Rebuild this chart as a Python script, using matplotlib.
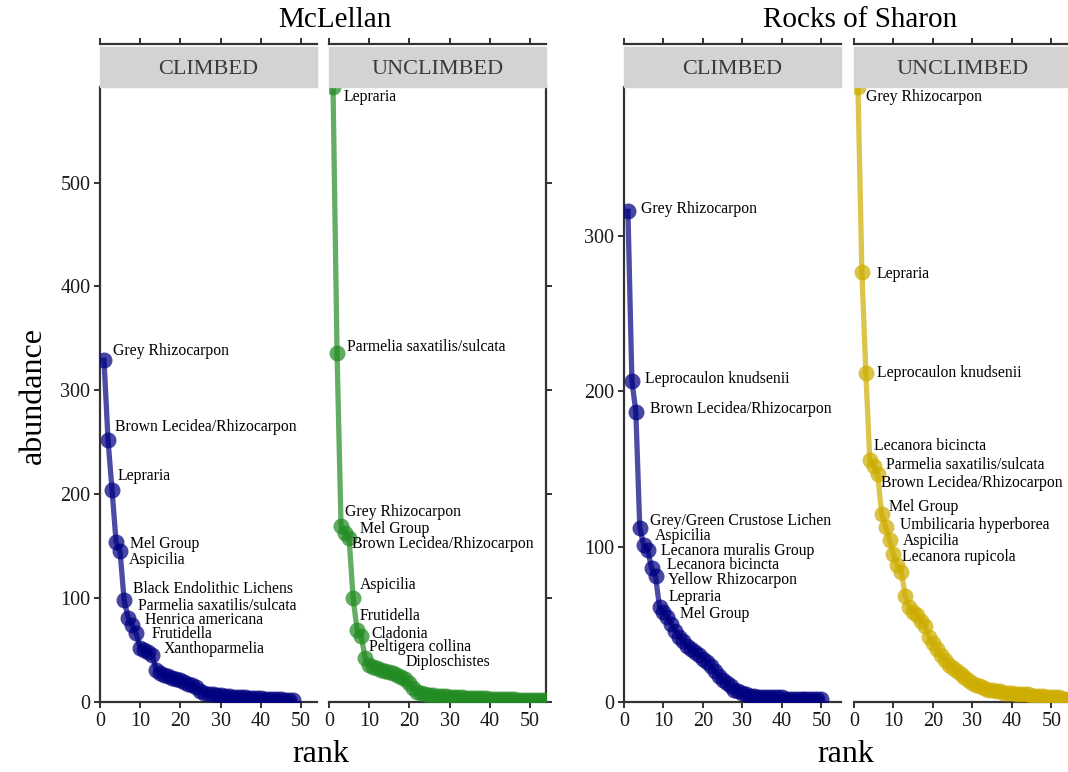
import numpy as np
import matplotlib.pyplot as plt
from matplotlib.patches import Rectangle

plt.rcParams['font.family'] = ['Liberation Serif', 'DejaVu Serif']

# rank-abundance data, one list per site x treatment (sorted, rank 1 first)
mc_climbed = [329, 252, 204, 154, 145, 98, 81, 74, 66, 52, 50, 48, 45, 31, 28, 26,
              25, 23, 22, 21, 19, 17, 16, 14, 11, 9, 8, 8, 7, 7, 6, 6, 5, 5, 5, 5,
              4, 4, 4, 4, 3, 3, 3, 3, 3, 2, 2, 2]
mc_climbed_names = ["Grey Rhizocarpon", "Brown Lecidea/Rhizocarpon", "Lepraria",
                    "Mel Group", "Aspicilia", "Black Endolithic Lichens",
                    "Parmelia saxatilis/sulcata", "Henrica americana", "Frutidella",
                    "Xanthoparmelia"]

mc_unclimbed = [592, 336, 169, 163, 158, 100, 69, 64, 42, 36, 34, 33, 31, 30, 29,
                28, 26, 24, 22, 18, 13, 10, 9, 8, 7, 7, 6, 6, 6, 5, 5, 5, 5, 4, 4,
                4, 4, 4, 4, 3, 3, 3, 3, 3, 3, 3, 2, 2, 2, 2, 2, 2, 2, 2]
mc_unclimbed_names = ["Lepraria", "Parmelia saxatilis/sulcata", "Grey Rhizocarpon",
                      "Mel Group", "Brown Lecidea/Rhizocarpon", "Aspicilia",
                      "Frutidella", "Cladonia", "Peltigera collina", "Diploschistes"]

rs_climbed = [316, 207, 187, 112, 101, 98, 86, 81, 61, 58, 55, 50, 46, 42, 39, 36,
              34, 32, 30, 28, 26, 23, 20, 17, 14, 12, 10, 8, 7, 6, 5, 4, 4, 3, 3,
              3, 3, 3, 3, 3, 2, 2, 2, 2, 2, 2, 2, 2, 2, 2]
rs_climbed_names = ["Grey Rhizocarpon", "Leprocaulon knudsenii",
                    "Brown Lecidea/Rhizocarpon", "Grey/Green Crustose Lichen",
                    "Aspicilia", "Lecanora muralis Group", "Lecanora bicincta",
                    "Yellow Rhizocarpon", "Lepraria", "Mel Group"]

rs_unclimbed = [396, 277, 212, 156, 152, 147, 121, 113, 104, 95, 88, 84, 68, 61,
                58, 56, 52, 49, 42, 38, 34, 30, 27, 24, 22, 20, 18, 16, 14, 12, 11,
                10, 9, 8, 8, 7, 7, 6, 6, 6, 5, 5, 5, 5, 4, 4, 4, 4, 3, 3, 3, 3, 2,
                2, 2]
rs_unclimbed_names = ["Grey Rhizocarpon", "Lepraria", "Leprocaulon knudsenii",
                      "Lecanora bicincta", "Parmelia saxatilis/sulcata",
                      "Brown Lecidea/Rhizocarpon", "Mel Group",
                      "Umbilicaria hyperborea", "Aspicilia", "Lecanora rupicola"]

# label nudges in pixels (right, up) so the names don't collide
mc_climbed_nudge = [(9, 9), (7, 13), (6, 14), (14, -2), (9, -9), (9, 11), (10, 12),
                    (13, 5), (15, -1), (23, -1)]
mc_unclimbed_nudge = [(11, -10), (10, 6), (4, 14), (15, 4), (3, -6), (7, 13),
                      (2, 14), (10, 2), (4, 11), (36, 3)]
rs_climbed_nudge = [(13, 2), (13, 2), (14, 3), (10, 7), (11, 9), (13, -1), (15, 3),
                    (12, -4), (9, 10), (17, -2)]
rs_unclimbed_nudge = [(8, -10), (15, -2), (11, 0), (4, 14), (12, 1), (3, -9), (7, 7),
                      (14, 2), (13, -1), (9, -3)]

W, H = 1068, 772
fig = plt.figure(figsize=(W / 100, H / 100), dpi=100)

PANEL_TOP, PANEL_BOT, PANEL_W = 87, 702, 217
STRIP_TOP = 45
AXCOL = '#333333'


def panel(left, abund, names, nudge, color, xmax, ymax, yticks, side, label):
    ax = fig.add_axes([left / W, (H - PANEL_BOT) / H, PANEL_W / W,
                       (PANEL_BOT - PANEL_TOP) / H])
    ranks = np.arange(1, len(abund) + 1)
    ax.plot(ranks, abund, color=color, lw=3.8, alpha=0.7, zorder=2)
    ax.plot(ranks, abund, 'o', ms=11.5, color=color, alpha=0.72, mec='none', zorder=3)
    for r, v, name, (dx, dy) in zip(ranks, abund, names, nudge):
        ax.annotate(name, xy=(r, v), xytext=(dx, dy), textcoords='offset pixels',
                    ha='left', va='center', fontsize=11.3, color='black', zorder=4)

    ax.set_xlim(0, xmax)
    ax.set_ylim(0, ymax)
    ax.set_xticks(np.arange(0, 51, 10))
    ax.set_yticks(yticks)

    for s in ax.spines.values():
        s.set_color(AXCOL)
        s.set_linewidth(1.6)
    ax.spines['top'].set_position(('outward', (PANEL_TOP - STRIP_TOP + 1) * 0.72))
    ax.spines['left'].set_visible(side == 'left')
    ax.spines['right'].set_visible(side == 'right')

    ax.tick_params(axis='x', top=True, bottom=True, labeltop=False, direction='out',
                   length=4, width=1.4, color=AXCOL, labelsize=14.5, pad=3,
                   labelcolor='#1a1a1a')
    ax.tick_params(axis='y', left=(side == 'left'), right=(side == 'right'),
                   labelleft=(side == 'left'), labelright=False, direction='out',
                   length=4, width=1.4, color=AXCOL, labelsize=14.5, pad=3,
                   labelcolor='#1a1a1a')

    # facet strip
    fig.patches.append(Rectangle((left / W, (H - PANEL_TOP) / H), PANEL_W / W,
                                 (PANEL_TOP - STRIP_TOP - 2) / H,
                                 transform=fig.transFigure, color='#d3d3d3', zorder=0))
    fig.text((left + PANEL_W / 2) / W, 1 - 69 / H, label,
             ha='center', va='center', fontsize=16, color='#3a3a3a')
    return ax


navy, green, gold = '#000080', '#228B22', '#CDAD00'

panel(100, mc_climbed, mc_climbed_names, mc_climbed_nudge, navy, 54, 592,
      range(0, 501, 100), 'left', 'CLIMBED')
panel(329, mc_unclimbed, mc_unclimbed_names, mc_unclimbed_nudge, green, 54, 592,
      range(0, 501, 100), 'right', 'UNCLIMBED')
panel(624, rs_climbed, rs_climbed_names, rs_climbed_nudge, navy, 55, 396,
      range(0, 301, 100), 'left', 'CLIMBED')
panel(854, rs_unclimbed, rs_unclimbed_names, rs_unclimbed_nudge, gold, 55, 396,
      range(0, 301, 100), 'right', 'UNCLIMBED')

fig.text(335 / W, 1 - 20 / H, 'McLellan', ha='center', va='center', fontsize=21)
fig.text(860 / W, 1 - 20 / H, 'Rocks of Sharon', ha='center', va='center', fontsize=21)
fig.text(33 / W, 1 - 395 / H, 'abundance', rotation=90, ha='center', va='center',
         fontsize=23)
fig.text(321 / W, 1 - 755 / H, 'rank', ha='center', va='center', fontsize=23)
fig.text(846 / W, 1 - 755 / H, 'rank', ha='center', va='center', fontsize=23)

fig.savefig('out.png', dpi=100)
